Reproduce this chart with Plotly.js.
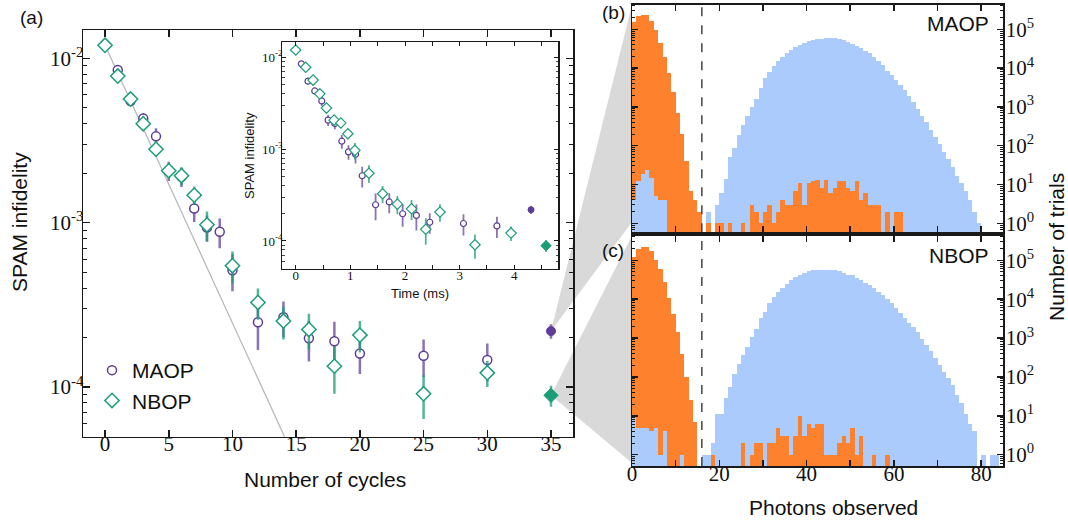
<!DOCTYPE html>
<html><head><meta charset="utf-8">
<script src="https://cdn.plot.ly/plotly-3.0.1.min.js"></script>
<style>html,body{margin:0;padding:0;background:#fff}#chart{width:1068px;height:522px}</style>
</head><body><div id="chart"></div>
<script>
// ---------------- data: panel (a) ----------------
const cyclesMAOP = [0,1,2,3,4,5,6,7,8,9,10,12,14,16,18,20,25,30];
const infidMAOP  = [1.2e-2,8.5e-3,5.5e-3,4.3e-3,3.35e-3,2.07e-3,1.9e-3,1.22e-3,9.35e-4,8.8e-4,5.13e-4,2.48e-4,2.66e-4,1.98e-4,1.9e-4,1.6e-4,1.55e-4,1.46e-4];
const errMAOP    = [3e-4,4e-4,3.5e-4,3.3e-4,4e-4,2.8e-4,2.5e-4,2.1e-4,1.7e-4,1.8e-4,1.3e-4,8e-5,6.5e-5,5.5e-5,6e-5,4e-5,4e-5,3.8e-5];
const timeMAOP   = [0,0.104,0.226,0.349,0.477,0.593,0.716,0.844,0.966,1.095,1.217,1.462,1.712,1.957,2.208,2.453,3.07,3.682];

const cyclesNBOP = [0,1,2,3,4,5,6,7,8,10,12,14,16,18,20,25,30];
const infidNBOP  = [1.2e-2,7.8e-3,5.65e-3,4.0e-3,2.8e-3,2.07e-3,1.93e-3,1.47e-3,9.7e-4,5.47e-4,3.27e-4,2.52e-4,2.24e-4,1.34e-4,2.07e-4,9.1e-5,1.22e-4];
const errNBOP    = [2e-4,3e-4,3e-4,3e-4,2.7e-4,2e-4,2.4e-4,1.9e-4,2e-4,1.2e-4,7e-5,5.7e-5,5.5e-5,4.3e-5,4.5e-5,2.7e-5,2.2e-5];
const timeNBOP   = [0,0.183,0.318,0.44,0.563,0.703,0.826,0.954,1.083,1.34,1.59,1.86,2.12,2.38,2.64,3.28,3.94];

const finalCycle = [35];
const finalMAOP = [2.19e-4], finalErrMAOP = [2.2e-5], finalTimeMAOP = [4.306];
const finalNBOP = [8.9e-5],  finalErrNBOP = [1.3e-5], finalTimeNBOP = [4.58];

const fitCycles = [0, 15];
const fitInfid  = [1.2e-2, 3.5e-5];

// ---------------- data: panels (b), (c) ----------------
const photonBins = [0,1,2,3,4,5,6,7,8,9,10,11,12,13,14,15,16,17,18,19,20,21,22,23,24,25,26,27,28,29,30,31,32,33,34,35,36,37,38,39,40,41,42,43,44,45,46,47,48,49,50,51,52,53,54,55,56,57,58,59,60,61,62,63,64,65,66,67,68,69,70,71,72,73,74,75,76,77,78,79,80,81,82,83,84];
const threshold = 16;

const darkMAOP = [157000,220000,234000,230000,167000,96000,45000,19700,7600,2470,
  684,200,41,7,4,2,0,1,0,1,
  1,0,1,0,0,1,0,3,2,1,
  2,3,1,2,4,3,3,7,11,3,
  11,12,13,8,13,6,8,12,12,8,
  7,12,4,6,3,3,3,0,2,0,
  2,2,0,0,0,0,0,0,0,0,
  0,0,0,0,0,0,0,0,0,0,
  0,0,0,0,0];
const brightMAOP = [4,12,19,24,15,5,4,4,0,0,
  0,0,0,0,0,0,0,2,0,3,
  6,14,52,86,189,342,593,1010,1600,3100,
  5450,8090,11300,15200,19700,24000,29300,34300,39400,45200,
  49900,53000,55100,57300,58500,59700,58500,56200,52000,47100,
  42700,37900,32300,27600,24000,19700,15200,12000,8590,6640,
  5000,3700,2700,1900,1300,900,600,400,260,170,
  110,70,45,28,17,11,7,4,2,1,
  0,0,0,0,0];
const darkNBOP = [122000,200000,220000,220000,170000,100000,59000,27700,11000,4240,
  1430,400,100,25,7,0,0,0,1,0,
  0,0,0,0,0,2,0,1,2,2,
  0,2,2,5,3,3,1,3,10,3,
  6,5,6,6,1,1,1,2,3,2,
  5,1,3,0,0,1,0,0,1,0,
  0,0,0,0,0,0,0,0,0,0,
  0,0,0,0,0,0,0,0,0,0,
  0,0,0,0,0];
const brightNBOP = [9,5,5,5,4,5,1,4,0,0,
  0,1,0,0,0,0,1,1,2,11,
  11,28,55,122,220,375,590,1070,1740,3200,
  4690,8150,11400,15300,19400,25100,30600,37200,42700,47200,
  52000,55200,55200,57400,57400,57400,55200,52000,47200,42700,
  41100,35700,30600,26600,22700,19400,15300,12600,9940,8150,
  5940,4420,3290,2490,1930,1430,966,651,457,308,
  207,134,94,61,35,22,11,6,4,0,
  1,0,1,1,0];

// ---------------- styling ----------------
const W = 1068, H = 522;
const PX = x => x / W, PY = y => 1 - y / H;
const PURPLE = '#5e3c99', PURPLE_BAR = 'rgba(94,60,153,0.72)';
const GREEN = '#1b9e77', GREEN_BAR = 'rgba(27,158,119,0.75)';
const ORANGE = '#fe812d', BLUE = '#aacbfc';
const SERIF = '"Liberation Serif", "DejaVu Serif", "Times New Roman", serif';
const SANS = '"Liberation Sans", Arial, sans-serif';

const dom = {
  ax: [PX(83), PX(573.3)], ay: [PY(436.7), PY(30)],
  ix: [PX(282.3), PX(558.3)], iy: [PY(269), PY(41.7)],
  hx: [PX(632), PX(1003)], by: [PY(232.3), PY(4.7)], cy: [PY(466), PY(235.7)]
};
const rng = {
  ax: [-1.73, 36.75], ay: [-4.302, -1.828],
  ix: [-0.245, 4.805], iy: [-4.305, -1.83],
  hx: [0, 85], by: [-0.232, 5.634], cy: [-0.29, 5.632]
};

const nz = a => a.map(v => v > 0 ? v : null);
const traces = [];

// fit line
traces.push({x: fitCycles, y: fitInfid, mode: 'lines', line: {color: '#b5b5b5', width: 1.2},
  xaxis: 'x', yaxis: 'y', showlegend: false, hoverinfo: 'skip'});

function series(x, y, err, sym, col, bar, size, lw, thick, fill, name, ax, legend) {
  return {x, y, mode: 'markers', name, showlegend: !!legend, xaxis: ax[0], yaxis: ax[1],
    error_y: {type: 'data', array: err, visible: true, color: bar, thickness: thick, width: 0},
    marker: {symbol: sym, size, color: fill || '#ffffff', line: {color: col, width: lw}}};
}
// main
traces.push(series(cyclesMAOP, infidMAOP, errMAOP, 'circle', PURPLE, PURPLE_BAR, 9, 1.5, 2.5, null, 'MAOP', ['x','y'], true));
traces.push(series(cyclesNBOP, infidNBOP, errNBOP, 'diamond', GREEN, GREEN_BAR, 11, 1.5, 2.5, null, 'NBOP', ['x','y'], true));
traces.push(series(finalCycle, finalMAOP, finalErrMAOP, 'circle', PURPLE, PURPLE_BAR, 9, 1, 2.5, PURPLE, 'MAOP35', ['x','y'], false));
traces.push(series(finalCycle, finalNBOP, finalErrNBOP, 'diamond', GREEN, GREEN_BAR, 11, 1, 2.5, GREEN, 'NBOP35', ['x','y'], false));
// inset
traces.push(series(timeMAOP, infidMAOP, errMAOP, 'circle', PURPLE, PURPLE_BAR, 6, 1.2, 1.8, null, 'i1', ['x2','y2'], false));
traces.push(series(timeNBOP, infidNBOP, errNBOP, 'diamond', GREEN, GREEN_BAR, 8, 1.2, 1.8, null, 'i2', ['x2','y2'], false));
traces.push(series(finalTimeMAOP, finalMAOP, finalErrMAOP, 'circle', PURPLE, PURPLE_BAR, 6, 1, 1.8, PURPLE, 'i3', ['x2','y2'], false));
traces.push(series(finalTimeNBOP, finalNBOP, finalErrNBOP, 'diamond', GREEN, GREEN_BAR, 8, 1, 1.8, GREEN, 'i4', ['x2','y2'], false));

// histograms: larger bar behind, smaller bar in front
function hist(bright, dark, xa, ya) {
  const base = {type: 'bar', x: photonBins, width: 1, offset: 0, xaxis: xa, yaxis: ya,
    showlegend: false, hoverinfo: 'skip'};
  const frontBright = bright.map((b, i) => (b > 0 && b < dark[i]) ? b : null);
  return [
    Object.assign({}, base, {y: nz(bright), marker: {color: BLUE, line: {width: 0}}}),
    Object.assign({}, base, {y: nz(dark), marker: {color: ORANGE, line: {width: 0}}}),
    Object.assign({}, base, {y: frontBright, marker: {color: BLUE, line: {width: 0}}})
  ];
}
traces.push(...hist(brightMAOP, darkMAOP, 'x3', 'y3'));
traces.push(...hist(brightNBOP, darkNBOP, 'x4', 'y4'));

// axes
const frame = {showline: true, linecolor: '#1a1a1a', linewidth: 1.5, mirror: 'allticks',
  ticks: 'inside', tickcolor: '#1a1a1a', showgrid: false, zeroline: false};
const pow = e => '10<sup>' + e + '</sup>';
const serifFont = s => ({family: SERIF, size: s, color: '#111'});

const layout = {
  width: W, height: H, margin: {l: 0, r: 0, t: 0, b: 0},
  paper_bgcolor: '#ffffff', plot_bgcolor: 'rgba(0,0,0,0)',
  barmode: 'overlay', bargap: 0,
  font: {family: SANS, color: '#111'},
  xaxis: Object.assign({}, frame, {domain: dom.ax, anchor: 'y', range: rng.ax,
    tickmode: 'array', tickvals: [0,5,10,15,20,25,30,35], ticklen: 7, tickwidth: 1.5,
    tickfont: serifFont(21), ticklabelstandoff: -12}),
  yaxis: Object.assign({}, frame, {domain: dom.ay, anchor: 'x', type: 'log', range: rng.ay,
    tickmode: 'array', tickvals: [1e-4,1e-3,1e-2], ticktext: [pow('-4'), pow('-3'), pow('-2')],
    ticklen: 7, tickwidth: 1.5, tickfont: serifFont(21), ticklabelstandoff: -6,
    minor: {ticks: 'inside', ticklen: 4, tickwidth: 1, tickcolor: '#1a1a1a', dtick: 'D1', showgrid: false}}),
  xaxis2: Object.assign({}, frame, {domain: dom.ix, anchor: 'y2', range: rng.ix, linewidth: 1.2,
    tickmode: 'array', tickvals: [0,0.5,1,1.5,2,2.5,3,3.5,4,4.5], ticktext: ['0','','1','','2','','3','','4',''],
    ticklen: 4, tickwidth: 1, tickfont: serifFont(13), ticklabelstandoff: -6}),
  yaxis2: Object.assign({}, frame, {domain: dom.iy, anchor: 'x2', type: 'log', range: rng.iy, linewidth: 1.2,
    tickmode: 'array', tickvals: [1e-4,1e-3,1e-2], ticktext: [pow('-4'), pow('-3'), pow('-2')],
    ticklen: 4, tickwidth: 1, tickfont: serifFont(13), ticklabelstandoff: -4,
    minor: {ticks: 'inside', ticklen: 2.5, tickwidth: 0.8, tickcolor: '#1a1a1a', dtick: 'D1', showgrid: false}}),
  xaxis3: Object.assign({}, frame, {domain: dom.hx, anchor: 'y3', range: rng.hx,
    tickmode: 'array', tickvals: [0,10,20,30,40,50,60,70,80], ticktext: ['','','','','','','','',''],
    ticklen: 6, tickwidth: 1.5}),
  yaxis3: Object.assign({}, frame, {domain: dom.by, anchor: 'x3', type: 'log', range: rng.by, side: 'right',
    tickmode: 'array', tickvals: [1,10,100,1e3,1e4,1e5], ticktext: [pow(0),pow(1),pow(2),pow(3),pow(4),pow(5)],
    ticklen: 6, tickwidth: 1.5, tickfont: serifFont(21), ticklabelstandoff: -3,
    minor: {ticks: 'inside', ticklen: 3, tickwidth: 1, tickcolor: '#1a1a1a', dtick: 'D1', showgrid: false}}),
  xaxis4: Object.assign({}, frame, {domain: dom.hx, anchor: 'y4', range: rng.hx,
    tickmode: 'array', tickvals: [0,10,20,30,40,50,60,70,80], ticktext: ['0','','20','','40','','60','','80'],
    ticklen: 6, tickwidth: 1.5, tickfont: serifFont(21), ticklabelstandoff: -12}),
  yaxis4: Object.assign({}, frame, {domain: dom.cy, anchor: 'x4', type: 'log', range: rng.cy, side: 'right',
    tickmode: 'array', tickvals: [1,10,100,1e3,1e4,1e5], ticktext: [pow(0),pow(1),pow(2),pow(3),pow(4),pow(5)],
    ticklen: 6, tickwidth: 1.5, tickfont: serifFont(21), ticklabelstandoff: -3,
    minor: {ticks: 'inside', ticklen: 3, tickwidth: 1, tickcolor: '#1a1a1a', dtick: 'D1', showgrid: false}}),
  legend: {x: PX(92), y: PY(350), xanchor: 'left', yanchor: 'top', bgcolor: 'rgba(0,0,0,0)',
    font: {family: SANS, size: 21, color: '#111'}, itemwidth: 30, tracegroupgap: 0},
  shapes: [], annotations: []
};

// wedge shapes connecting the final points to the histograms
function toPaperX(v) { return dom.ax[0] + (v - rng.ax[0]) / (rng.ax[1] - rng.ax[0]) * (dom.ax[1] - dom.ax[0]); }
function toPaperY(v) { const l = Math.log10(v); return dom.ay[0] + (l - rng.ay[0]) / (rng.ay[1] - rng.ay[0]) * (dom.ay[1] - dom.ay[0]); }
function wedge(cx, cy, yTop, yBot) {
  const ax = toPaperX(cx), ay = toPaperY(cy), ex = dom.hx[0];
  return {type: 'path', xref: 'paper', yref: 'paper', layer: 'below',
    path: `M ${ax} ${ay} L ${ex} ${yTop} L ${ex} ${yBot} Z`,
    fillcolor: '#d9d9d9', line: {width: 0}};
}
layout.shapes.push(wedge(finalCycle[0], finalMAOP[0], dom.by[1], PY(222)));
layout.shapes.push(wedge(finalCycle[0], finalNBOP[0], dom.cy[1], PY(463)));
// threshold lines
['3', '4'].forEach(k => layout.shapes.push({type: 'line', xref: 'x' + k, yref: 'y' + k + ' domain',
  x0: threshold, x1: threshold, y0: 0, y1: 1, line: {color: '#444', width: 1.5, dash: 'dash'}, layer: 'above'}));

function ann(text, x, y, size, opts) {
  layout.annotations.push(Object.assign({text, xref: 'paper', yref: 'paper', x: PX(x), y: PY(y),
    xanchor: 'center', yanchor: 'middle',
    showarrow: false, font: {family: SANS, size, color: '#111'}}, opts || {}));
}
ann('(a)', 31, 17, 19);
ann('(b)', 613, 13, 19);
ann('(c)', 613, 250, 19);
ann('MAOP', 991, 24, 21, {xanchor: 'right'});
ann('NBOP', 991, 255, 21, {xanchor: 'right'});
ann('SPAM infidelity', 19, 222, 21, {textangle: -90});
ann('Number of cycles', 325, 479, 21);
ann('SPAM infidelity', 249, 155, 13, {textangle: -90});
ann('Time (ms)', 420, 293, 13);
ann('Photons observed', 833, 507, 21);
ann('Number of trials', 1056, 247, 21, {textangle: -90});

Plotly.newPlot('chart', traces, layout, {staticPlot: true, displayModeBar: false});
</script></body></html>
